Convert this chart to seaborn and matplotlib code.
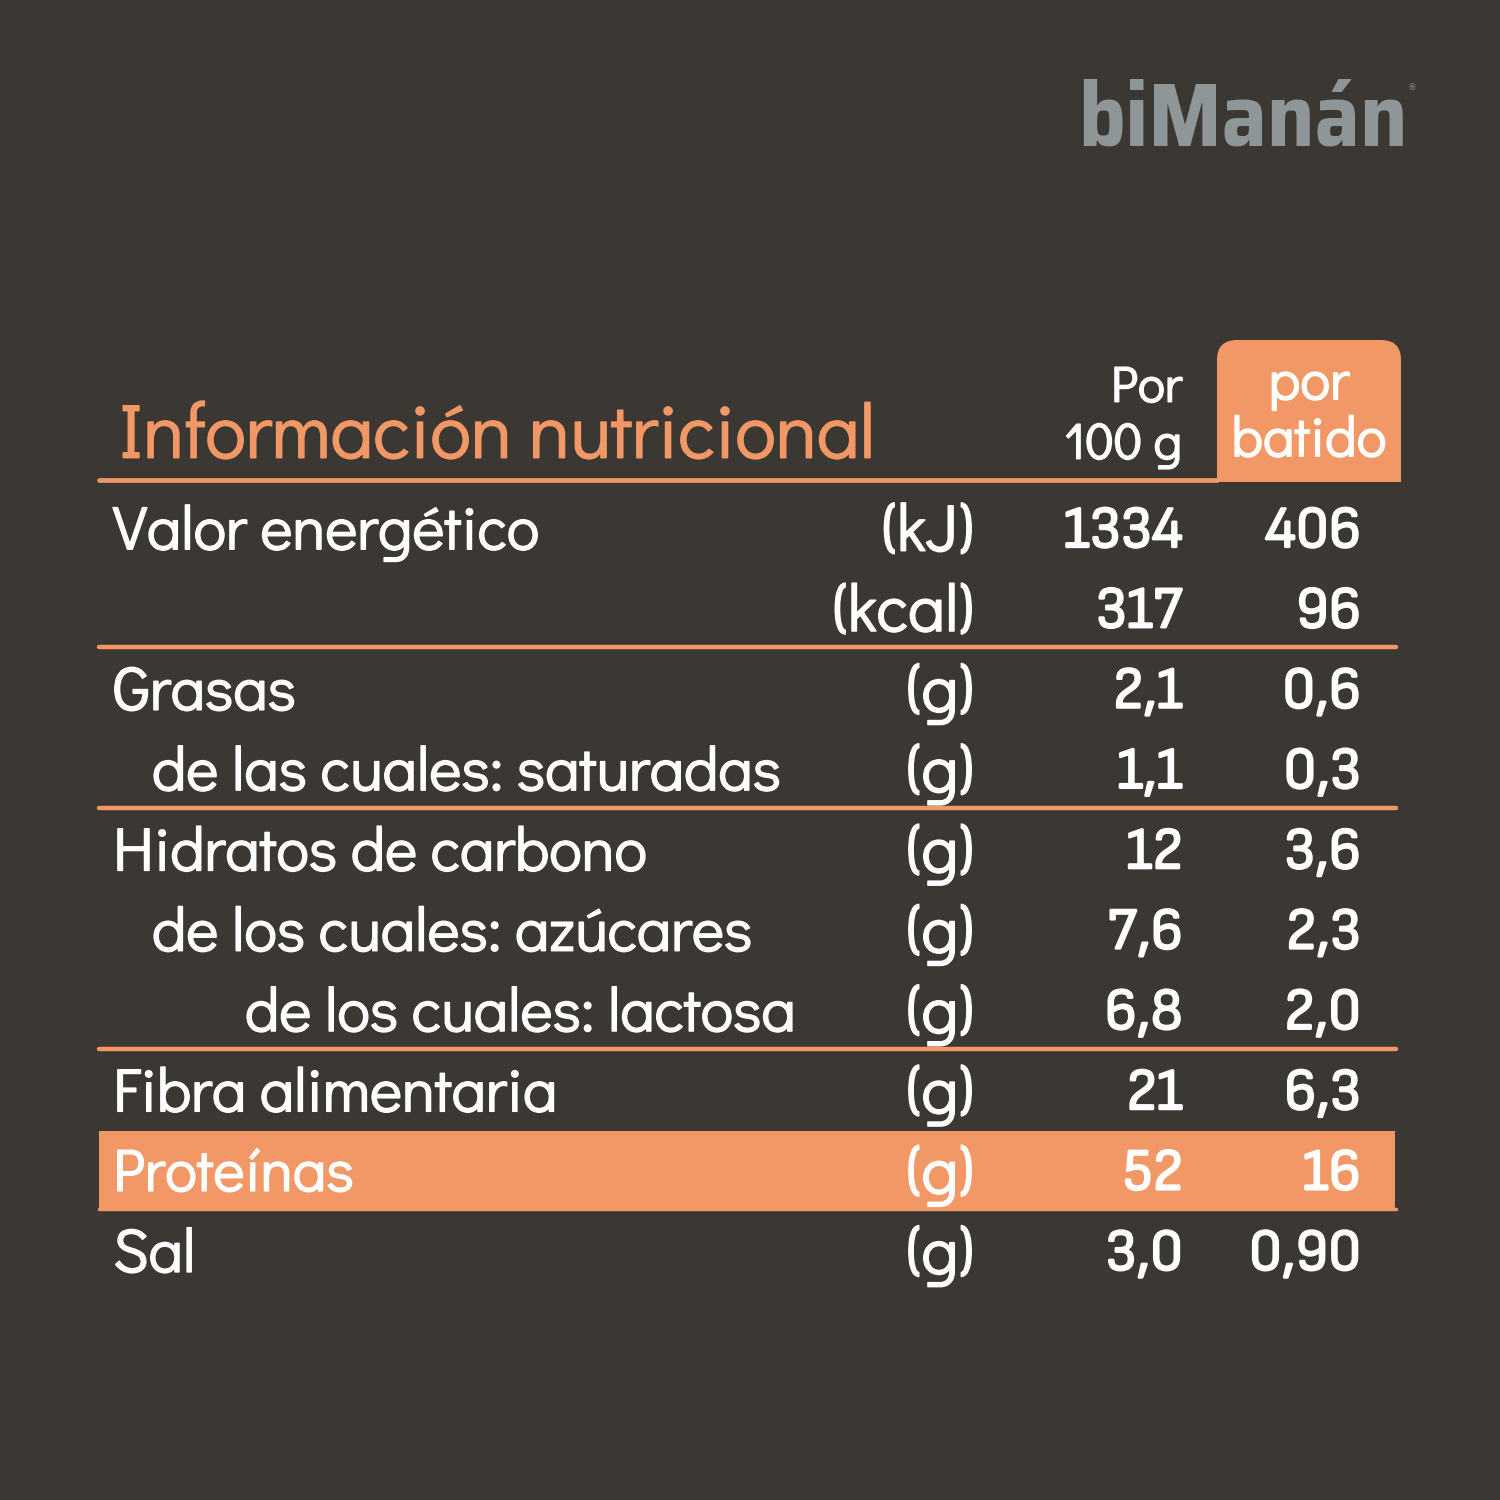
import numpy as np
import matplotlib.pyplot as plt
import matplotlib.patheffects as pe
from matplotlib.colors import ListedColormap
from matplotlib.patches import FancyBboxPatch, Rectangle
import seaborn as sns

BG = "#3b3733"
ORANGE = "#f29866"
WHITE = "#ffffff"
GREY = "#8f9698"

row_names = ["Valor energético", "", "Grasas", "de las cuales: saturadas", "Hidratos de carbono",
             "de los cuales: azúcares", "de los cuales: lactosa", "Fibra alimentaria", "Proteínas", "Sal"]
row_levels = [0, 0, 0, 1, 0, 1, 2, 0, 0, 0]
units = ["(kJ)", "(kcal)", "(g)", "(g)", "(g)", "(g)", "(g)", "(g)", "(g)", "(g)"]
per_100g = ["1334", "317", "2,1", "1,1", "12", "7,6", "6,8", "21", "52", "3,0"]
per_shake = ["406", "96", "0,6", "0,3", "3,6", "2,3", "2,0", "6,3", "16", "0,90"]
highlight = [0, 0, 0, 0, 0, 0, 0, 0, 1, 0]
rule_rows = [2, 4, 7]

sns.set_theme(style="white", rc={"figure.facecolor": BG, "axes.facecolor": BG})
plt.rcParams["font.family"] = ["Didact Gothic", "Lato", "DejaVu Sans"]
NARROW = ["Sofia Sans Semi Condensed", "Lato"]
LOGO = ["Saira SemiCondensed", "Lato"]


def heavy(color, w=1.0):
    # the original face is heavier than Didact Gothic
    return [pe.withStroke(linewidth=w, foreground=color)]


fig = plt.figure(figsize=(15, 15), dpi=100)

# table rows are a one column heatmap, the proteins row is the lit cell
top, row_h = 488.6, 80.3
n = len(row_names)
ax = fig.add_axes([99 / 1500, 1 - (top + n * row_h) / 1500, 1296 / 1500, n * row_h / 1500])
sns.heatmap(np.array(highlight).reshape(-1, 1), ax=ax, cmap=ListedColormap([BG, ORANGE]),
            cbar=False, xticklabels=False, yticklabels=False, vmin=0, vmax=1)

# overlay in pixel units for the text
ov = fig.add_axes([0, 0, 1, 1])
ov.set_xlim(0, 1500)
ov.set_ylim(1500, 0)
ov.axis("off")
ov.patch.set_alpha(0)

indent_x = {0: 113, 1: 152, 2: 245}
for i in range(n):
    y = top + (i + 0.5) * row_h
    fs = 43 if row_names[i] == "Proteínas" else 44
    ov.text(indent_x[row_levels[i]], y - 2, row_names[i], color=WHITE, fontsize=fs, va="center_baseline",
            ha="left", path_effects=heavy(WHITE))
    ov.text(974, y - 2, units[i], color=WHITE, fontsize=47.5, va="center_baseline", ha="right",
            path_effects=heavy(WHITE))
    ov.text(1183, y - 2, per_100g[i], color=WHITE, fontsize=43, family=NARROW, va="center_baseline", ha="right",
            path_effects=heavy(WHITE, 1.3))
    ov.text(1361, y - 2, per_shake[i], color=WHITE, fontsize=43, family=NARROW, va="center_baseline", ha="right",
            path_effects=heavy(WHITE, 1.3))

# rules
ov.plot([98.5, 1217], [480, 480], color=ORANGE, lw=3.4, solid_capstyle="round")
for r in rule_rows:
    y = top + r * row_h - 2
    ov.plot([98.5, 1395.5], [y, y], color=ORANGE, lw=3.2, solid_capstyle="round")
ov.plot([98.5, 1395.5], [1209, 1209], color=ORANGE, lw=2.5, solid_capstyle="round")

# header box, rounded at the top only
ov.add_patch(FancyBboxPatch((1217, 340), 184, 100, boxstyle="round,pad=0,rounding_size=20",
                            fc=ORANGE, ec="none"))
ov.add_patch(Rectangle((1217, 400), 184, 82, fc=ORANGE, ec="none"))
ov.text(119, 430, "Información nutricional", color=ORANGE, fontsize=55, va="center_baseline", ha="left",
        path_effects=heavy(ORANGE))
ov.text(1182, 383, "Por", color=WHITE, fontsize=36.5, va="center_baseline", ha="right", path_effects=heavy(WHITE))
ov.text(1182, 440, "100 g", color=WHITE, fontsize=36.5, va="center_baseline", ha="right", path_effects=heavy(WHITE))
ov.text(1309, 379, "por", color=WHITE, fontsize=40.5, va="center_baseline", ha="center", path_effects=heavy(WHITE))
ov.text(1309, 436, "batido", color=WHITE, fontsize=40.5, va="center_baseline", ha="center", path_effects=heavy(WHITE))

# logo
ov.text(1078, 145, "biManán", color=GREY, fontsize=65.5, fontweight="bold", family=LOGO, va="baseline", ha="left")
ov.text(1409, 87, "®", color=GREY, fontsize=7, va="center", ha="left")

fig.savefig("out.png", dpi=100, facecolor=BG)
